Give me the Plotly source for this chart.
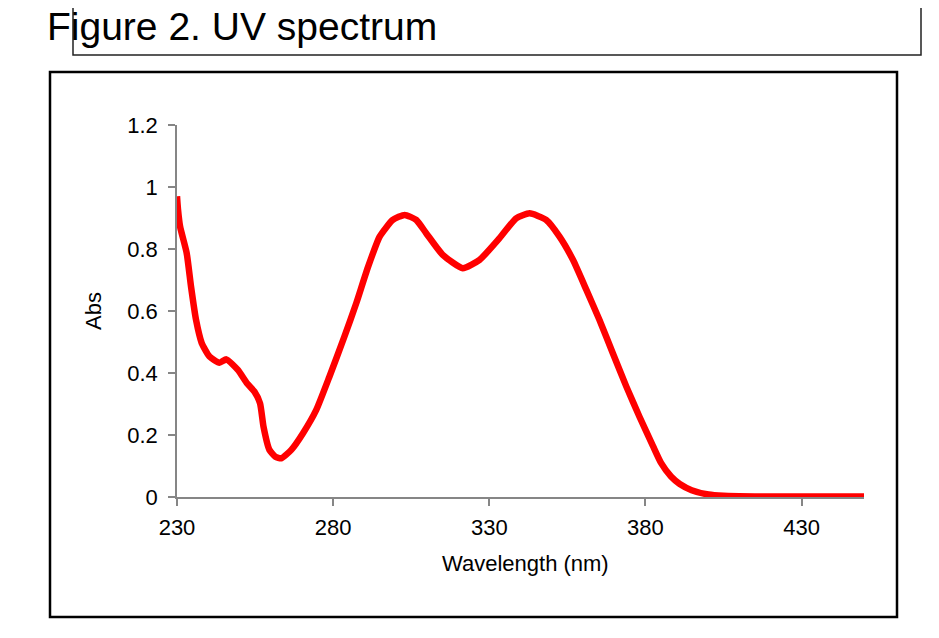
import plotly.graph_objects as go

# Wavelength (nm) and absorbance
wavelength = [230.0, 230.3, 231.0, 233.1, 234.5, 236.1, 237.9, 240.4, 243.6, 245.8,
              249.5, 252.4, 254.8, 256.6, 257.7, 259.6, 261.5, 263.4, 266.6, 270.3,
              274.6, 278.8, 283.6, 287.4, 291.1, 294.9, 299.1, 302.9, 306.6, 309.8,
              315.1, 321.5, 326.9, 333.3, 338.6, 342.9, 348.2, 352.5, 356.8, 361.1,
              365.3, 369.6, 373.9, 378.1, 382.4, 385.0, 388.2, 391.0, 394.8, 400.2,
              405.0, 415.0, 430.0, 450.0]
absorbance = [0.97, 0.93, 0.872, 0.787, 0.678, 0.571, 0.497, 0.453, 0.433, 0.444,
              0.41, 0.367, 0.34, 0.302, 0.227, 0.152, 0.13, 0.125, 0.152, 0.205,
              0.281, 0.388, 0.517, 0.625, 0.74, 0.84, 0.894, 0.91, 0.894, 0.851,
              0.781, 0.738, 0.765, 0.835, 0.899, 0.915, 0.894, 0.84, 0.765, 0.668,
              0.571, 0.463, 0.356, 0.259, 0.165, 0.11, 0.066, 0.042, 0.022, 0.008,
              0.004, 0.002, 0.002, 0.002]

x_ticks = [230, 280, 330, 380, 430]
y_ticks = [0, 0.2, 0.4, 0.6, 0.8, 1.0, 1.2]
y_tick_text = ["0", "0.2", "0.4", "0.6", "0.8", "1", "1.2"]

FONT = "Liberation Sans, Arial, sans-serif"
AXIS_GREY = "#868686"

# the page body has an 8px margin, so all page pixel positions are shifted by it
OFF = 8
FIG_W, FIG_H = 939 - OFF, 638 - OFF

# plot area in page pixels: x 177..864, y 125..497
L, R, T, B = 177 - OFF, 864 - OFF, 125 - OFF, 497 - OFF
W, H = R - L, B - T


def px(xp):
    return (xp - OFF - L) / W


def py(yp):
    return (B - (yp - OFF)) / H


fig = go.Figure()
fig.add_trace(go.Scatter(
    x=wavelength, y=absorbance, mode="lines",
    line=dict(color="#ff0000", width=6.5, shape="spline", smoothing=0.5),
    showlegend=False, hoverinfo="x+y",
))

fig.update_layout(
    width=FIG_W, height=FIG_H,
    margin=dict(l=L, r=FIG_W - R, t=T, b=FIG_H - B),
    paper_bgcolor="white", plot_bgcolor="white",
    font=dict(family=FONT, size=22, color="black"),
    xaxis=dict(
        range=[230, 450], tickvals=x_ticks, ticktext=[str(v) for v in x_ticks],
        showline=True, linecolor=AXIS_GREY, linewidth=1.5,
        ticks="outside", ticklen=7, tickcolor=AXIS_GREY, tickwidth=1.5,
        showgrid=False, zeroline=False, layer="below traces",
        tickfont=dict(size=22, family=FONT, color="black"),
        ticklabelstandoff=3,
    ),
    yaxis=dict(
        range=[0, 1.2], tickvals=y_ticks, ticktext=y_tick_text,
        showline=True, linecolor=AXIS_GREY, linewidth=1.5,
        ticks="outside", ticklen=7, tickcolor=AXIS_GREY, tickwidth=1.5,
        showgrid=False, zeroline=False, layer="below traces",
        tickfont=dict(size=22, family=FONT, color="black"),
        ticklabelstandoff=6,
    ),
    shapes=[
        # outer chart frame
        dict(type="rect", xref="paper", yref="paper",
             x0=px(50), x1=px(897), y0=py(617), y1=py(72),
             line=dict(color="black", width=2.5), fillcolor="rgba(0,0,0,0)"),
        # title box
        dict(type="rect", xref="paper", yref="paper",
             x0=px(73), x1=px(921), y0=py(55), y1=py(-5),
             line=dict(color="#222222", width=1.5), fillcolor="rgba(0,0,0,0)"),
    ],
    annotations=[
        dict(text="Figure 2. UV spectrum", xref="paper", yref="paper",
             x=px(46), y=py(26), xanchor="left", yanchor="middle",
             showarrow=False, borderpad=0,
             font=dict(size=39, family=FONT, color="black")),
        dict(text="Abs", xref="paper", yref="paper",
             x=px(93), y=py(311), xanchor="center", yanchor="middle",
             textangle=-90, showarrow=False,
             font=dict(size=22, family=FONT, color="black")),
        dict(text="Wavelength (nm)", xref="paper", yref="paper",
             x=px(525), y=py(563), xanchor="center", yanchor="middle",
             showarrow=False, font=dict(size=22, family=FONT, color="black")),
    ],
)

fig.write_html("out.html")
